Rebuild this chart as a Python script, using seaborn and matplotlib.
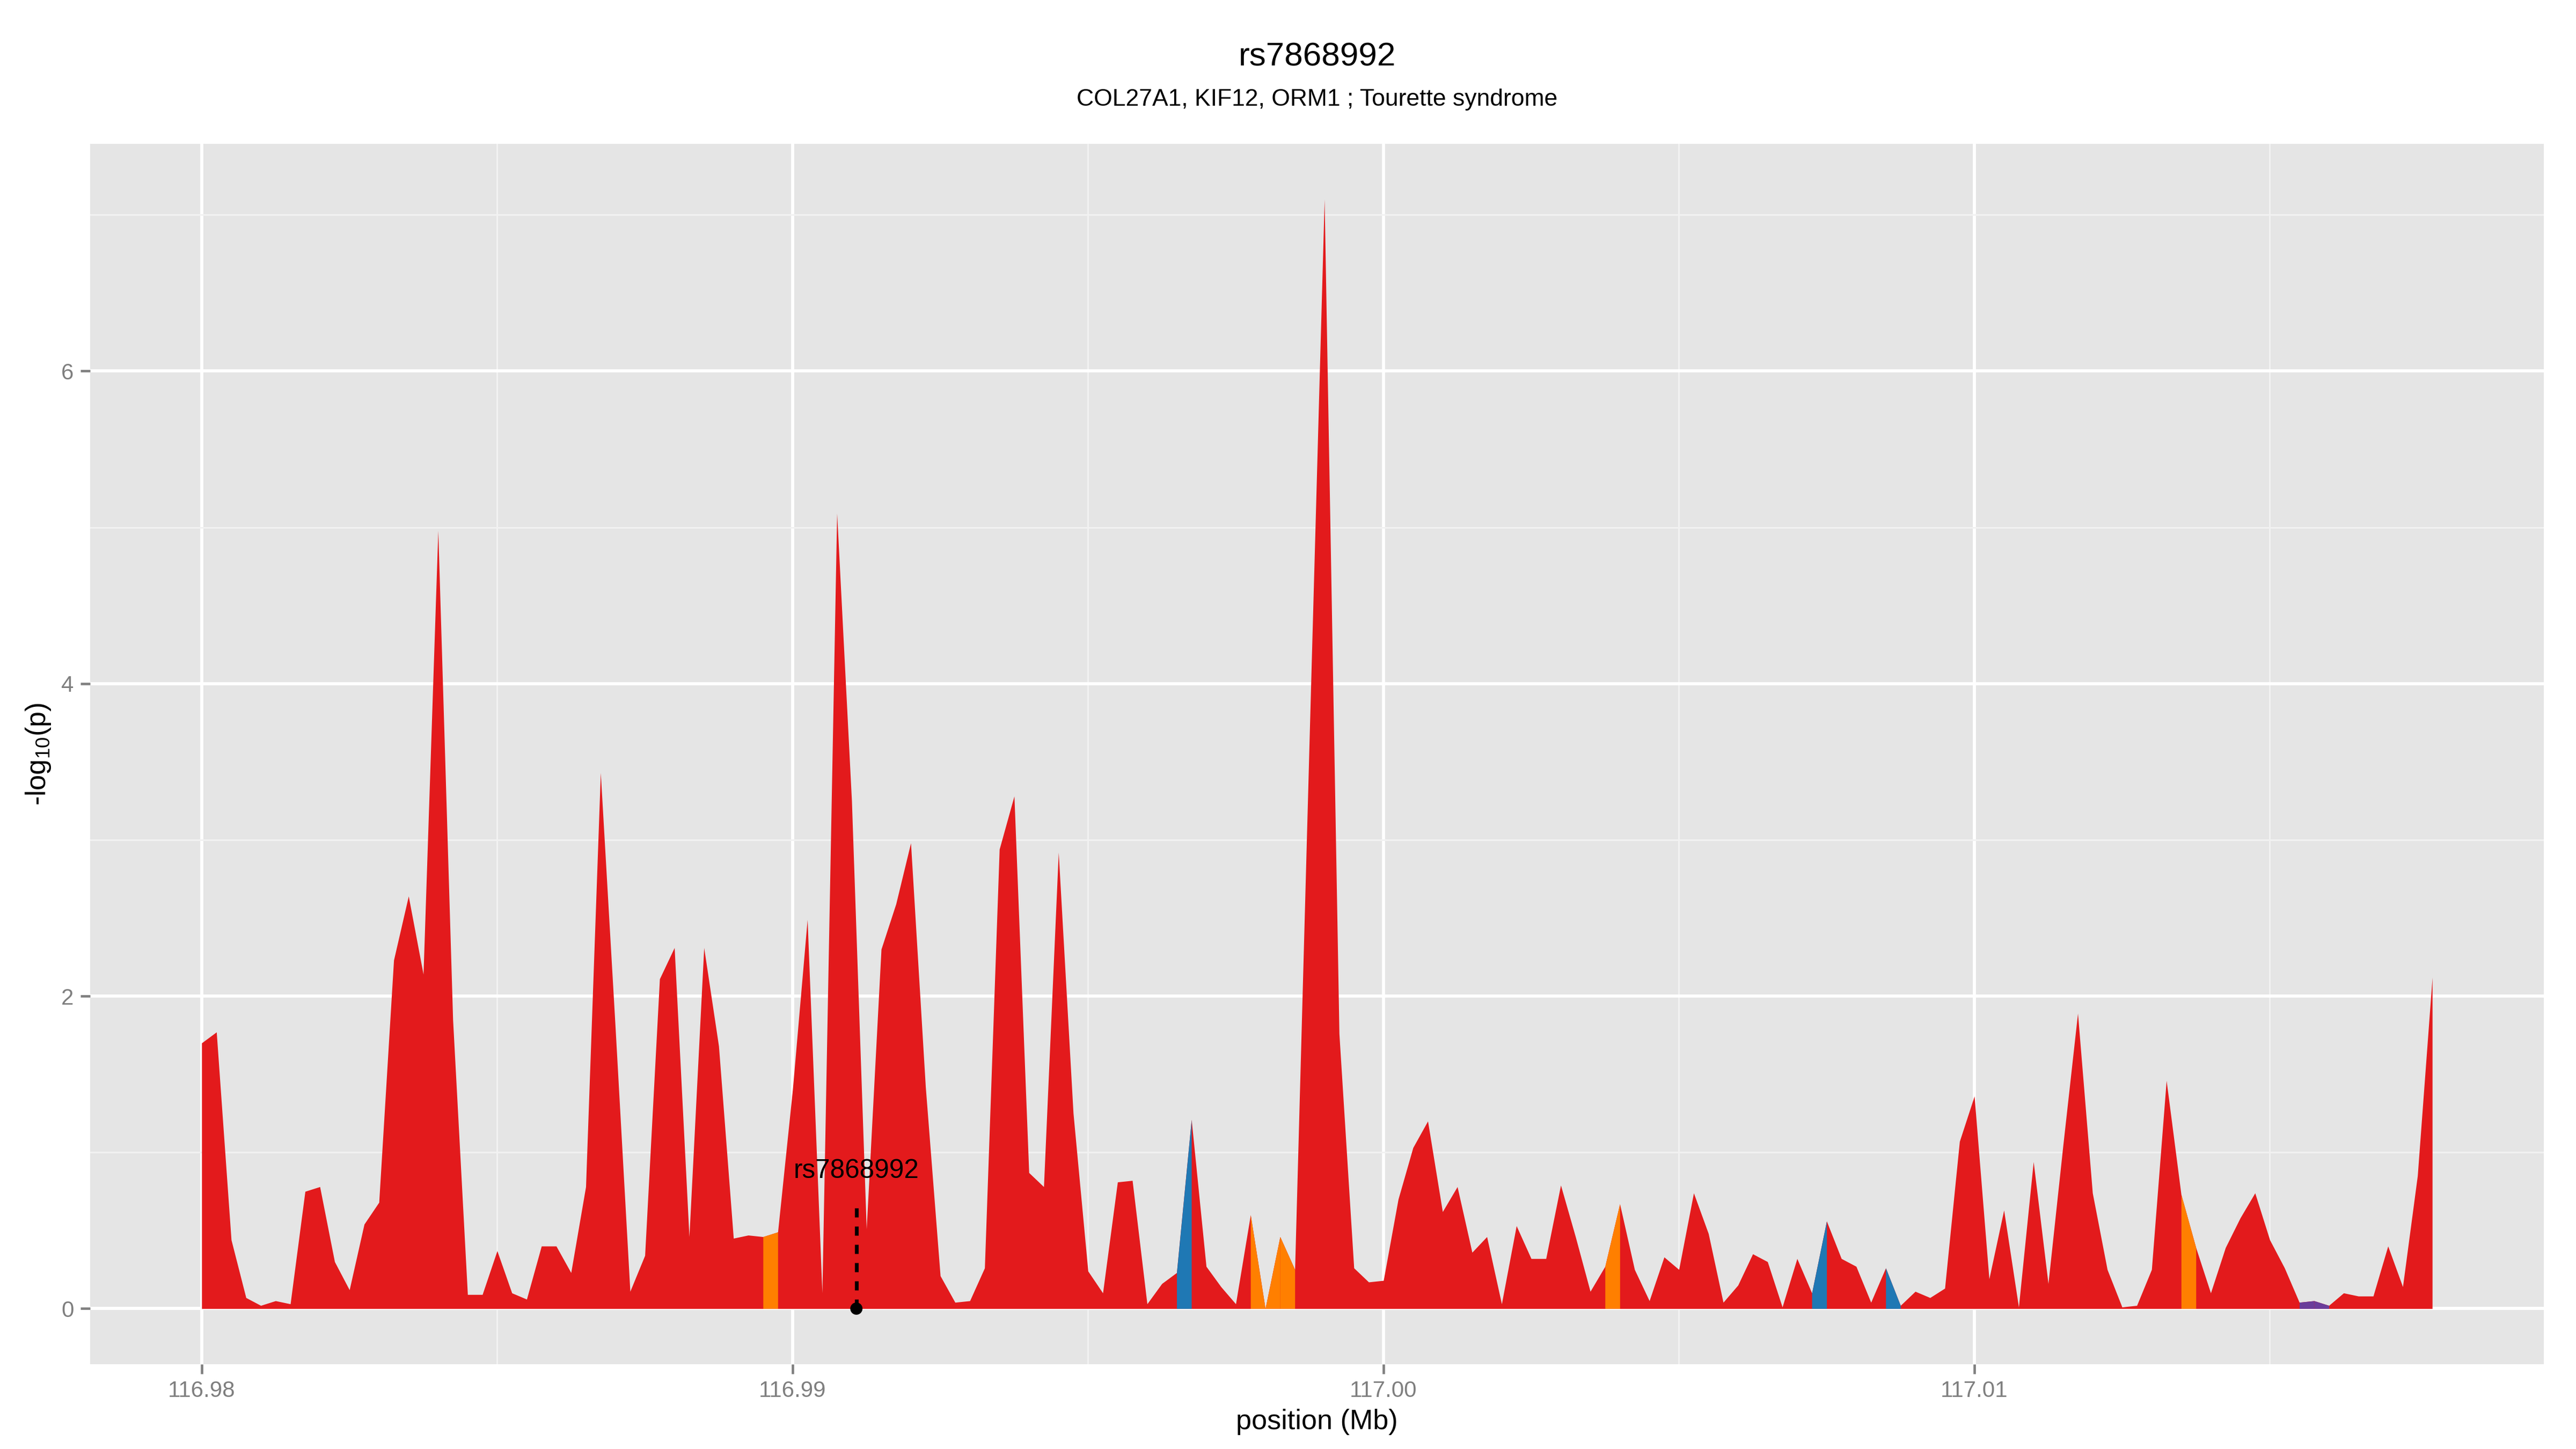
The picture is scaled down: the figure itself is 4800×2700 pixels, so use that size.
import matplotlib
matplotlib.use("Agg")
import matplotlib.pyplot as plt
from matplotlib.ticker import MultipleLocator, FormatStrFormatter
import numpy as np
import pandas as pd
import seaborn as sns

# --- data ---
snp_id = "rs7868992"
snp_pos = 116.99108
snp_label_y = 0.88
snp_line_top = 0.70
subtitle = "COL27A1, KIF12, ORM1 ; Tourette syndrome"

position_mb = [
    116.98000, 116.98025, 116.98050, 116.98075, 116.98100, 116.98125, 116.98150, 116.98175,
    116.98200, 116.98225, 116.98250, 116.98275, 116.98300, 116.98325, 116.98350, 116.98375,
    116.98400, 116.98425, 116.98450, 116.98475, 116.98500, 116.98525, 116.98550, 116.98575,
    116.98600, 116.98625, 116.98650, 116.98675, 116.98700, 116.98725, 116.98750, 116.98775,
    116.98800, 116.98825, 116.98850, 116.98875, 116.98900, 116.98925, 116.98950, 116.98975,
    116.99000, 116.99025, 116.99050, 116.99075, 116.99100, 116.99125, 116.99150, 116.99175,
    116.99200, 116.99225, 116.99250, 116.99275, 116.99300, 116.99325, 116.99350, 116.99375,
    116.99400, 116.99425, 116.99450, 116.99475, 116.99500, 116.99525, 116.99550, 116.99575,
    116.99600, 116.99625, 116.99650, 116.99675, 116.99700, 116.99725, 116.99750, 116.99775,
    116.99800, 116.99825, 116.99850, 116.99875, 116.99900, 116.99925, 116.99950, 116.99975,
    117.00000, 117.00025, 117.00050, 117.00075, 117.00100, 117.00125, 117.00150, 117.00175,
    117.00200, 117.00225, 117.00250, 117.00275, 117.00300, 117.00325, 117.00350, 117.00375,
    117.00400, 117.00425, 117.00450, 117.00475, 117.00500, 117.00525, 117.00550, 117.00575,
    117.00600, 117.00625, 117.00650, 117.00675, 117.00700, 117.00725, 117.00750, 117.00775,
    117.00800, 117.00825, 117.00850, 117.00875, 117.00900, 117.00925, 117.00950, 117.00975,
    117.01000, 117.01025, 117.01050, 117.01075, 117.01100, 117.01125, 117.01150, 117.01175,
    117.01200, 117.01225, 117.01250, 117.01275, 117.01300, 117.01325, 117.01350, 117.01375,
    117.01400, 117.01425, 117.01450, 117.01475, 117.01500, 117.01525, 117.01550, 117.01575,
    117.01600, 117.01625, 117.01650, 117.01675, 117.01700, 117.01725, 117.01750, 117.01775,
]

neg_log_p = [
    1.70, 1.77, 0.44, 0.07, 0.02, 0.05, 0.03, 0.75, 0.78, 0.30,
    0.12, 0.54, 0.68, 2.23, 2.64, 2.14, 4.98, 1.85, 0.09, 0.09,
    0.37, 0.10, 0.06, 0.40, 0.40, 0.23, 0.78, 3.43, 1.80, 0.11,
    0.34, 2.11, 2.31, 0.46, 2.31, 1.68, 0.45, 0.47, 0.46, 0.49,
    1.40, 2.49, 0.10, 5.09, 3.25, 0.51, 2.30, 2.59, 2.98, 1.42,
    0.21, 0.04, 0.05, 0.26, 2.94, 3.28, 0.87, 0.78, 2.92, 1.25,
    0.24, 0.10, 0.81, 0.82, 0.03, 0.16, 0.23, 1.21, 0.27, 0.14,
    0.03, 0.60, 0.00, 0.46, 0.25, 3.70, 7.10, 1.76, 0.26, 0.17,
    0.18, 0.70, 1.03, 1.20, 0.62, 0.78, 0.36, 0.46, 0.03, 0.53,
    0.32, 0.32, 0.79, 0.46, 0.11, 0.27, 0.67, 0.25, 0.05, 0.33,
    0.25, 0.74, 0.48, 0.04, 0.15, 0.35, 0.30, 0.01, 0.32, 0.10,
    0.56, 0.32, 0.27, 0.04, 0.26, 0.02, 0.11, 0.07, 0.13, 1.07,
    1.36, 0.19, 0.63, 0.01, 0.94, 0.16, 1.04, 1.89, 0.74, 0.25,
    0.01, 0.02, 0.25, 1.46, 0.73, 0.39, 0.10, 0.39, 0.58, 0.74,
    0.44, 0.26, 0.04, 0.05, 0.02, 0.10, 0.08, 0.08, 0.40, 0.14,
    0.85, 2.12,
]

# LD class of each point; the segment from a point to the next one takes its colour
ld_class = [
    0, 0, 0, 0, 0, 0, 0, 0, 0, 0, 0, 0, 0, 0, 0, 0, 0, 0, 0, 0,
    0, 0, 0, 0, 0, 0, 0, 0, 0, 0, 0, 0, 0, 0, 0, 0, 0, 0, 1, 0,
    0, 0, 0, 0, 0, 0, 0, 0, 0, 0, 0, 0, 0, 0, 0, 0, 0, 0, 0, 0,
    0, 0, 0, 0, 0, 0, 2, 0, 0, 0, 0, 1, 1, 1, 0, 0, 0, 0, 0, 0,
    0, 0, 0, 0, 0, 0, 0, 0, 0, 0, 0, 0, 0, 0, 0, 1, 0, 0, 0, 0,
    0, 0, 0, 0, 0, 0, 0, 0, 0, 2, 0, 0, 0, 0, 2, 0, 0, 0, 0, 0,
    0, 0, 0, 0, 0, 0, 0, 0, 0, 0, 0, 0, 0, 0, 1, 0, 0, 0, 0, 0,
    0, 0, 3, 3, 0, 0, 0, 0, 0, 0, 0, 0,
]

df = pd.DataFrame({"pos": position_mb, "logp": neg_log_p, "ld": ld_class})

# --- style: old ggplot2 grey theme ---
sns.set_theme(style="darkgrid")
paired = sns.color_palette("Paired")
ld_colors = {0: paired[5], 1: paired[7], 2: paired[1], 3: paired[9]}
grey50 = "#7F7F7F"
plt.rcParams["font.family"] = ["Liberation Sans", "DejaVu Sans"]
plt.rcParams["mathtext.fontset"] = "custom"
plt.rcParams["mathtext.rm"] = "Liberation Sans"
plt.rcParams["mathtext.it"] = "Liberation Sans"

fig = plt.figure(figsize=(16, 9), dpi=300)
ax = fig.add_axes([0.035, 0.0586, 0.9525, 0.8422])
ax.set_facecolor("#E5E5E5")

x = df["pos"].to_numpy()
y = df["logp"].to_numpy()

# base area in red, then overlay the segments belonging to other LD classes
ax.fill_between(x, 0, y, color=ld_colors[0], lw=0, zorder=2)
for i in range(len(df) - 1):
    c = df["ld"].iloc[i]
    if c != 0:
        ax.fill_between(x[i:i + 2], 0, y[i:i + 2], color=ld_colors[c], lw=0, zorder=3)

# index SNP marker
ax.plot([snp_pos, snp_pos], [0, snp_line_top], color="black", lw=1.7,
        ls=(0, (2.4, 2.4)), zorder=4)
sns.scatterplot(x=[snp_pos], y=[0], color="black", s=30, edgecolor="none",
                ax=ax, zorder=5, legend=False)
ax.text(snp_pos, snp_label_y, snp_id, ha="center", va="center",
        fontsize=11.9, color="black", zorder=6)

# axes limits with ggplot-like 5% expansion
xr = x.max() - x.min()
yr = y.max() - 0
ax.set_xlim(x.min() - 0.05 * xr, x.max() + 0.05 * xr)
ax.set_ylim(0 - 0.05 * yr, y.max() + 0.05 * yr)

ax.xaxis.set_major_locator(MultipleLocator(0.01))
ax.xaxis.set_minor_locator(MultipleLocator(0.005))
ax.xaxis.set_major_formatter(FormatStrFormatter("%.2f"))
ax.yaxis.set_major_locator(MultipleLocator(2))
ax.yaxis.set_minor_locator(MultipleLocator(1))

ax.grid(which="major", color="white", lw=1.4, zorder=1)
ax.grid(which="minor", color="#F2F2F2", lw=0.7, zorder=1)
ax.set_axisbelow(True)
for s in ax.spines.values():
    s.set_visible(False)

ax.tick_params(which="major", axis="both", length=4.3, width=1.1, color=grey50,
               labelcolor=grey50, labelsize=10.1, pad=3, bottom=True, left=True)
ax.tick_params(which="minor", length=0)

ax.set_xlabel("position (Mb)", fontsize=12.5, labelpad=3, color="black")
ax.set_ylabel(r"-log$_{10}$(p)", fontsize=12.5, labelpad=4, color="black")

cx = 0.035 + 0.9525 / 2
fig.text(cx, 1 - 107 / 2700, snp_id, ha="center", va="center", fontsize=14.9, color="black")
fig.text(cx, 1 - 186 / 2700, subtitle, ha="center", va="center", fontsize=10.7, color="black")

fig.savefig("out.png", dpi=300, facecolor="white")
